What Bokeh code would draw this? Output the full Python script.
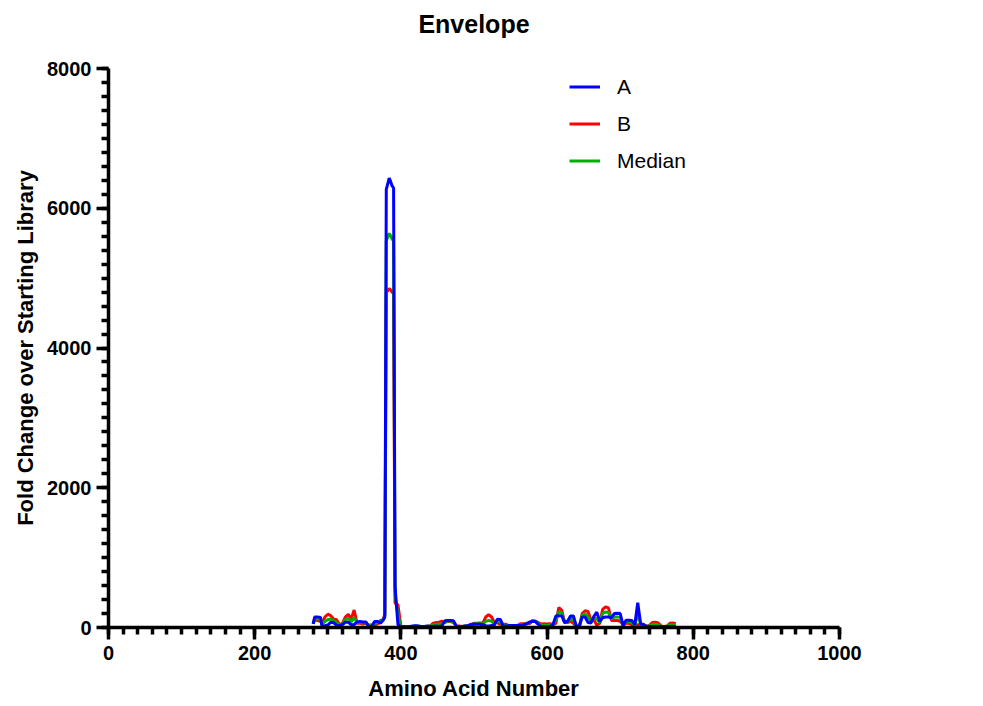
from bokeh.plotting import figure
from bokeh.models import Range1d, SingleIntervalTicker, Legend, LegendItem, LinearAxis, FixedTicker
from bokeh.embed import file_html
from bokeh.resources import INLINE

# Amino acid positions (shared x for all series)
aa = [280, 282, 286, 290, 292, 296, 300, 304, 308, 312, 316, 320, 324, 328, 332, 336,
      340, 344, 348, 352, 356, 360, 364, 368, 372, 376, 378, 380, 382, 384, 386, 388,
      390, 392, 394, 396, 400,
      404, 408, 412, 416, 420, 424, 428, 432, 436, 440, 444, 448, 452, 456, 460, 464,
      468, 472, 476, 480, 484, 488, 492, 496, 500, 504, 508, 512, 516, 520, 524, 528,
      532, 536, 540, 544, 548, 552, 556, 560, 564, 568, 572, 576, 580, 584, 588, 592,
      596, 600, 604, 608, 612, 616, 620, 624, 628, 632, 636, 640, 644, 648, 652, 656,
      660, 664, 668, 672, 676, 680, 684, 688, 692, 696, 700, 704, 708, 712, 716, 720,
      724, 728, 732, 736, 740, 744, 748, 752, 756, 760, 764, 768, 772, 776]

series_a = [50, 150, 150, 145, 20, 25, 35, 75, 70, 30, 30, 40, 75, 75, 40, 40,
            80, 85, 80, 80, 15, 15, 85, 85, 60, 110, 150, 6270, 6350, 6430, 6380, 6320,
            6290, 590, 300, 40, 10,
            10, 10, 15, 20, 25, 20, 15, 15, 20, 15, 15, 20, 15, 20, 95, 100,
            100, 95, 15, 10, 15, 20, 30, 45, 45, 45, 45, 40, 25, 20, 30, 40,
            120, 115, 20, 20, 30, 30, 30, 30, 30, 40, 50, 80, 85, 85, 45, 10,
            10, 10, 15, 40, 165, 170, 165, 70, 90, 165, 165, 20, 20, 150, 150, 70,
            65, 160, 220, 85, 140, 150, 150, 140, 200, 205, 200, 25, 105, 105, 100, 40,
            355, 50, 45, 15, 15, 15, 15, 15, 15, 15, 15, 15, 15, 15]

series_b = [60, 110, 100, 90, 60, 150, 190, 170, 120, 110, 40, 60, 150, 190, 120, 250,
            60, 60, 50, 60, 35, 35, 40, 50, 100, 110, 200, 4800, 4820, 4850, 4830, 4800,
            4780, 350, 340, 320, 20,
            10, 10, 10, 10, 15, 15, 10, 10, 15, 20, 60, 70, 75, 90, 70, 90,
            85, 70, 20, 20, 15, 20, 20, 30, 60, 60, 65, 60, 150, 185, 150, 70,
            70, 45, 45, 45, 20, 15, 20, 30, 55, 55, 60, 55, 100, 90, 70, 50,
            55, 50, 55, 40, 60, 285, 250, 70, 70, 90, 60, 10, 0, 200, 240, 230,
            100, 110, 30, 60, 260, 295, 280, 100, 100, 100, 90, 40, 60, 60, 40, 30,
            40, 30, 20, 20, 30, 70, 75, 65, 20, 15, 20, 60, 65, 55]

series_median = [55, 130, 125, 118, 40, 88, 112, 122, 95, 70, 35, 50, 112, 132, 80, 145,
                 70, 72, 65, 70, 25, 25, 62, 68, 80, 110, 175, 5535, 5585, 5640, 5605, 5560,
                 5535, 470, 320, 180, 15,
                 10, 10, 12, 15, 20, 18, 12, 12, 18, 18, 38, 45, 45, 55, 82, 95,
                 92, 82, 18, 15, 15, 20, 25, 38, 52, 52, 55, 50, 88, 102, 90, 55,
                 95, 80, 32, 32, 25, 22, 25, 30, 42, 48, 55, 68, 92, 88, 58, 30,
                 32, 30, 35, 40, 112, 228, 208, 70, 80, 128, 112, 15, 10, 175, 195, 150,
                 82, 135, 125, 72, 200, 222, 215, 120, 150, 152, 145, 32, 82, 82, 70, 35,
                 198, 40, 32, 18, 22, 42, 45, 40, 18, 15, 18, 38, 40, 35]

series_names = ["A", "B", "Median"]
series_colors = ["#0000ff", "#ff0000", "#00b000"]
chart_title = "Envelope"

FONT = "Liberation Sans"

p = figure(width=975, height=703, output_backend="svg", toolbar_location=None,
           x_range=Range1d(0, 1000), y_range=Range1d(0, 8000),
           min_border_left=108, min_border_right=136, min_border_top=68,
           min_border_bottom=74)

p.outline_line_color = None
p.xgrid.grid_line_color = None
p.ygrid.grid_line_color = None

# Title: shown as the label of a bare axis above the frame (centered over it)
title_axis = LinearAxis(ticker=FixedTicker(ticks=[], minor_ticks=[]), axis_label=chart_title,
                        axis_line_color=None, major_tick_line_color=None,
                        minor_tick_line_color=None,
                        major_tick_out=0, minor_tick_out=0, major_label_standoff=0,
                        axis_label_text_font=FONT, axis_label_text_font_size="25px",
                        axis_label_text_font_style="bold", axis_label_text_color="black",
                        axis_label_standoff=31)
p.add_layout(title_axis, "above")

p.below[0].ticker = SingleIntervalTicker(interval=200, num_minor_ticks=10)
p.yaxis[0].ticker = SingleIntervalTicker(interval=2000, num_minor_ticks=10)

for ax in (p.below[0], p.yaxis[0]):
    ax.axis_line_width = 3.5
    ax.axis_line_color = "black"
    ax.major_tick_line_width = 3.5
    ax.minor_tick_line_width = 3.5
    ax.major_tick_line_color = "black"
    ax.minor_tick_line_color = "black"
    ax.major_tick_in = 0
    ax.minor_tick_in = 0
    ax.major_tick_out = 12
    ax.minor_tick_out = 7
    ax.major_label_text_font = FONT
    ax.major_label_text_font_size = "20px"
    ax.major_label_text_font_style = "bold"
    ax.major_label_text_color = "black"
    ax.axis_label_text_font = FONT
    ax.axis_label_text_font_size = "22px"
    ax.axis_label_text_font_style = "bold"
    ax.axis_label_text_color = "black"

p.below[0].axis_label = "Amino Acid Number"
p.yaxis[0].axis_label = "Fold Change over Starting Library"
p.below[0].major_label_standoff = 6
p.yaxis[0].major_label_standoff = 5
p.below[0].axis_label_standoff = 13
p.yaxis[0].axis_label_standoff = 6

r_b = p.line(aa, series_b, line_color=series_colors[1], line_width=3)
r_m = p.line(aa, series_median, line_color=series_colors[2], line_width=3)
r_a = p.line(aa, series_a, line_color=series_colors[0], line_width=3)

legend = Legend(items=[LegendItem(label=series_names[0], renderers=[r_a]),
                       LegendItem(label=series_names[1], renderers=[r_b]),
                       LegendItem(label=series_names[2], renderers=[r_m])],
                location=(461, 454), orientation="vertical",
                border_line_color=None, background_fill_alpha=0,
                padding=0, margin=0, spacing=12, glyph_width=31, glyph_height=25,
                label_height=25, label_width=80, label_standoff=17,
                label_text_font=FONT, label_text_font_size="21px",
                label_text_color="black")
p.add_layout(legend)

open("out.html", "w").write(file_html(p, INLINE))
